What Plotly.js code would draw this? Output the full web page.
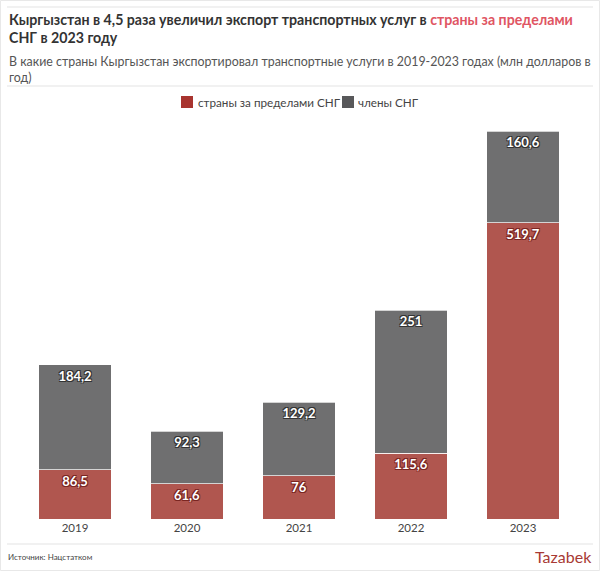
<!DOCTYPE html>
<html><head><meta charset="utf-8">
<script src="https://cdn.plot.ly/plotly-3.0.1.min.js"></script>
<style>body{margin:0;background:#fff}#c{width:600px;height:571px}</style>
</head><body><div id="c"></div>
<script>
const years = ['2019','2020','2021','2022','2023'];
const outsideCIS = [86.5, 61.6, 76, 115.6, 519.7];
const insideCIS = [184.2, 92.3, 129.2, 251, 160.6];
const outsideLabels = ['86,5','61,6','76','115,6','519,7'];
const insideLabels = ['184,2','92,3','129,2','251','160,6'];
const seriesNames = ['страны за пределами СНГ', 'члены СНГ'];

const L=19, R=579, T=120, B=519;
const px = x => (x-L)/(R-L);
const py = y => (B-y)/(B-T);
const FONT = 'Lato, "Noto Sans", sans-serif';

function outline(c){return `1px 1px 0 ${c}, -1px -1px 0 ${c}, 1px -1px 0 ${c}, -1px 1px 0 ${c}`;}

const traces = [
 {type:'bar', name:seriesNames[0], x:years, y:outsideCIS, text:outsideLabels,
  textposition:'inside', insidetextanchor:'end', textangle:0, constraintext:'none',
  textfont:{family:FONT, size:13, color:'#fff', weight:700, shadow:outline('#7a2622')},
  marker:{color:'#b0564f', line:{color:'rgba(255,255,255,0.7)', width:1}}, hoverinfo:'skip'},
 {type:'bar', name:seriesNames[1], x:years, y:insideCIS, text:insideLabels,
  textposition:'inside', insidetextanchor:'end', textangle:0, constraintext:'none',
  textfont:{family:FONT, size:13, color:'#fff', weight:700, shadow:outline('#333')},
  marker:{color:'#6f6f70', line:{color:'rgba(255,255,255,0.7)', width:1}}, hoverinfo:'skip'}
];

const hline = (y1) => ({type:'line', xref:'paper', yref:'paper', x0:px(7), x1:px(593), y0:py(y1), y1:py(y1), line:{color:'#e3e3e3', width:1}});
const sq = (x0, c) => ({type:'rect', xref:'paper', yref:'paper', x0:px(x0), x1:px(x0+12), y0:py(108), y1:py(96), fillcolor:c, line:{width:0}});

const layout = {
 width:600, height:571, barmode:'stack', bargap:0.35,
 margin:{l:L, r:600-R, t:T, b:571-B, pad:0},
 paper_bgcolor:'#fff', plot_bgcolor:'#fff',
 font:{family:FONT, color:'#444'},
 showlegend:false,
 xaxis:{type:'category', showgrid:false, zeroline:false, showline:false, ticks:'', tickfont:{size:11.5, color:'#444'}, fixedrange:true},
 yaxis:{range:[0,700], visible:false, fixedrange:true},
 shapes:[
  hline(7), hline(86), hline(544),
  {type:'rect', xref:'paper', yref:'paper', x0:px(0.5), x1:px(599.5), y0:py(0.5), y1:py(570.5), line:{color:'#e8e8e8', width:1}},
  sq(181, '#a8342f'), sq(342, '#58585a')
 ],
 annotations:[
  {xref:'paper', yref:'paper', x:px(7), y:py(9), xanchor:'left', yanchor:'top', align:'left', showarrow:false,
   text:'<b>Кыргызстан в 4,5 раза увеличил экспорт транспортных услуг в <span style="color:#e05563">страны за пределами</span><br>СНГ в 2023 году</b>',
   font:{family:FONT, size:14.2, color:'#333'}},
  {xref:'paper', yref:'paper', x:px(7), y:py(52), xanchor:'left', yanchor:'top', align:'left', showarrow:false,
   text:'В какие страны Кыргызстан экспортировал транспортные услуги в 2019-2023 годах (млн долларов в<br>год)',
   font:{family:FONT, size:12.4, color:'#555'}},
  {xref:'paper', yref:'paper', x:px(196), y:py(102), xanchor:'left', yanchor:'middle', showarrow:false,
   text:seriesNames[0], font:{family:FONT, size:11.7, color:'#444'}},
  {xref:'paper', yref:'paper', x:px(356), y:py(102), xanchor:'left', yanchor:'middle', showarrow:false,
   text:seriesNames[1], font:{family:FONT, size:11.7, color:'#444'}},
  {xref:'paper', yref:'paper', x:px(6), y:py(557), xanchor:'left', yanchor:'middle', showarrow:false,
   text:'Источник: Нацстатком', font:{family:FONT, size:8, color:'#444'}},
  {xref:'paper', yref:'paper', x:px(594), y:py(556), xanchor:'right', yanchor:'middle', showarrow:false,
   text:'Tazabek', font:{family:FONT, size:16, color:'#a83a34'}}
 ]
};
Plotly.newPlot('c', traces, layout, {displayModeBar:false, staticPlot:true});
</script></body></html>
